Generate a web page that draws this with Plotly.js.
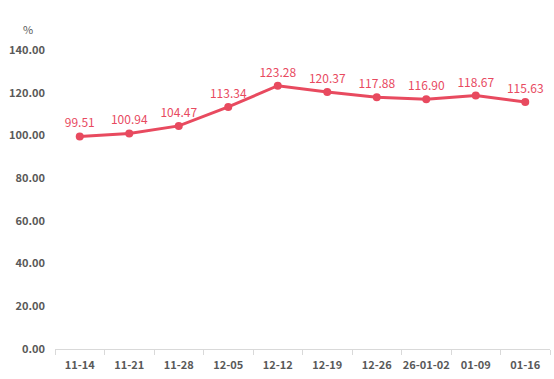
<!DOCTYPE html>
<html><head><meta charset="utf-8">
<script src="https://cdn.plot.ly/plotly-3.0.1.min.js"></script>
<style>body{margin:0;background:#fff}#c{width:554px;height:379px}</style>
</head><body><div id="c"></div>
<script>
const categories = ["11-14","11-21","11-28","12-05","12-12","12-19","12-26","26-01-02","01-09","01-16"];
const values = [99.51,100.94,104.47,113.34,123.28,120.37,117.88,116.90,118.67,115.63];
const yTicks = [0,20,40,60,80,100,120,140];
const red = "#e84a5f";
const fam = "Noto Sans CJK SC, Noto Sans, sans-serif";
const trace = {
  x: categories, y: values, type: "scatter", mode: "lines+markers+text",
  line: {color: red, width: 3},
  marker: {color: red, size: 8},
  text: values.map(v => v.toFixed(2)),
  textposition: "top center",
  textfont: {family: fam, size: 12, color: red},
  cliponaxis: false, hoverinfo: "none"
};
const layout = {
  width: 554, height: 379,
  margin: {l: 55, r: 4, t: 50, b: 30},
  paper_bgcolor: "#fff", plot_bgcolor: "#fff",
  showlegend: false,
  font: {family: fam, color: "#595959"},
  xaxis: {
    type: "category", range: [-0.5, 9.5], tickson: "boundaries", tickangle: 0,
    ticks: "outside", ticklen: 5, tickcolor: "#d9d9d9",
    showline: true, linecolor: "#d9d9d9", linewidth: 1,
    showgrid: false, zeroline: false, fixedrange: true,
    tickfont: {family: fam, size: 11, color: "#595959", weight: "bold"},
    ticklabelstandoff: 6
  },
  yaxis: {
    range: [0, 140], tickvals: yTicks, ticktext: yTicks.map(v => v.toFixed(2)),
    showgrid: false, zeroline: false, showline: false, ticks: "",
    tickfont: {family: fam, size: 11, color: "#595959", weight: "bold"}, ticklabelstandoff: 9
  },
  annotations: [{
    text: "%", xref: "paper", yref: "paper", x: -0.055, y: 1.07,
    xanchor: "center", yanchor: "middle", showarrow: false,
    font: {family: fam, size: 11, color: "#595959"}
  }]
};
Plotly.newPlot("c", [trace], layout, {staticPlot: true});
</script></body></html>
